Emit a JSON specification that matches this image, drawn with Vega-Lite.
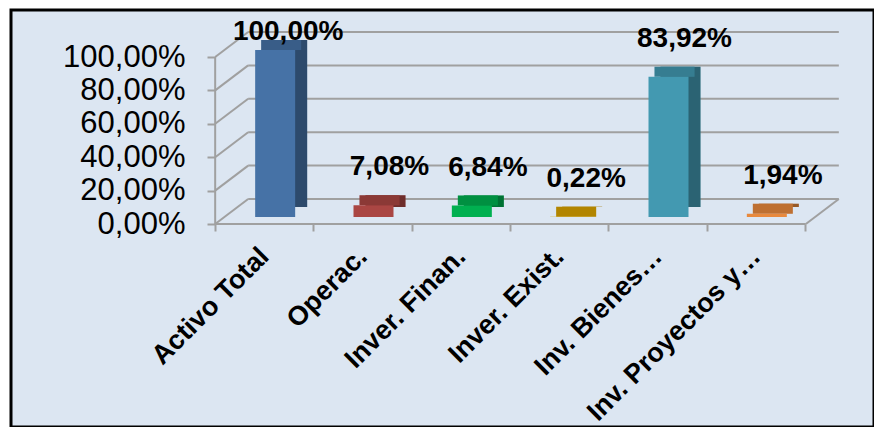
{
  "$schema": "https://vega.github.io/schema/vega-lite/v6.json",
  "width": 863,
  "height": 417,
  "autosize": {"type": "none"},
  "padding": {"left": 11, "top": 10, "right": 0, "bottom": 0},
  "background": "#ffffff",
  "config": {
    "view": {"fill": "#dce6f2", "stroke": "#000000", "strokeWidth": 3},
    "font": "Liberation Sans, Arial, sans-serif",
    "axis": {"grid": false}
  },
  "datasets": {
    "bars": [
      {"cat": "Activo Total", "pct": 1.0},
      {"cat": "Operac.", "pct": 0.0708},
      {"cat": "Inver. Finan.", "pct": 0.0684},
      {"cat": "Inver. Exist.", "pct": 0.0022},
      {"cat": "Inv. Bienes…", "pct": 0.8392},
      {"cat": "Inv. Proyectos y…", "pct": 0.0194}
    ],
    "ticks": [{"v": 0}, {"v": 0.2}, {"v": 0.4}, {"v": 0.6}, {"v": 0.8}, {"v": 1}]
  },
  "layer": [
    {
      "data": {"name": "ticks"},
      "mark": {"type": "rule", "color": "#a0a0a0", "strokeWidth": 2, "xOffset": -16, "x2Offset": 83, "yOffset": -25},
      "encoding": {
        "x": {
          "datum": "Activo Total", "type": "nominal",
          "scale": {"domain": ["Activo Total", "Operac.", "Inver. Finan.", "Inver. Exist.", "Inv. Bienes…", "Inv. Proyectos y…"], "range": [204, 794], "paddingInner": 0, "paddingOuter": 0},
          "axis": {
            "orient": "bottom", "offset": -203, "title": null, "domain": false,
            "tickColor": "#a0a0a0", "tickWidth": 2, "tickSize": 7, "tickBand": "extent",
            "labelAngle": -45, "labelAlign": "right", "labelBaseline": "middle",
            "labelFontSize": 27, "labelFontWeight": "bold", "labelColor": "#000000", "labelLimit": 0,
            "labelPadding": 21
          }
        },
        "x2": {"datum": "Inv. Proyectos y…"},
        "y": {
          "field": "v", "type": "quantitative", "title": null,
          "scale": {"domain": [-1.21557, 1.28144], "nice": false, "zero": false},
          "axis": {
            "orient": "left", "offset": -204, "values": [0, 0.2, 0.4, 0.6, 0.8, 1], "domain": false,
            "labelExpr": "replace(format(datum.value, '.2%'), '.', ',')",
            "tickColor": "#a0a0a0", "tickWidth": 2, "tickSize": 8,
            "labelFontSize": 31, "labelColor": "#000000", "labelPadding": 22, "title": null
          }
        }
      }
    },
    {
      "data": {"name": "ticks"},
      "mark": {"type": "rule", "color": "#a0a0a0", "strokeWidth": 2, "xOffset": -49, "x2Offset": -16, "y2Offset": -25},
      "encoding": {
        "x": {"datum": "Activo Total", "type": "nominal"},
        "x2": {"datum": "Activo Total"},
        "y": {"field": "v", "type": "quantitative", "title": null},
        "y2": {"field": "v"}
      }
    },
    {
      "data": {"name": "ticks"},
      "transform": [{"filter": "datum.v == 0"}],
      "mark": {"type": "rule", "color": "#a0a0a0", "strokeWidth": 2, "xOffset": 50, "x2Offset": 83, "y2Offset": -25},
      "encoding": {
        "x": {"datum": "Inv. Proyectos y…", "type": "nominal"},
        "x2": {"datum": "Inv. Proyectos y…"},
        "y": {"field": "v", "type": "quantitative", "title": null},
        "y2": {"field": "v"}
      }
    },
    {
      "data": {"name": "ticks"},
      "transform": [{"filter": "datum.v == 0"}],
      "mark": {"type": "rule", "color": "#a0a0a0", "strokeWidth": 2, "xOffset": -49, "x2Offset": 50},
      "encoding": {
        "x": {"datum": "Activo Total", "type": "nominal"},
        "x2": {"datum": "Inv. Proyectos y…"},
        "y": {"field": "v", "type": "quantitative", "title": null}
      }
    },
    {
      "data": {"name": "ticks"},
      "transform": [{"filter": "datum.v == 1"}],
      "mark": {"type": "rule", "color": "#a0a0a0", "strokeWidth": 2, "xOffset": -49},
      "encoding": {
        "x": {"datum": "Activo Total", "type": "nominal"},
        "y": {"datum": 0, "type": "quantitative", "title": null},
        "y2": {"datum": 1}
      }
    },
    {
      "data": {"name": "bars"},
      "mark": {"type": "bar", "width": 40, "xOffset": 23, "yOffset": -17, "y2Offset": -17},
      "encoding": {
        "x": {"field": "cat", "type": "nominal", "sort": null},
        "y": {"field": "pct", "type": "quantitative", "title": null},
        "y2": {"datum": 0},
        "color": {"field": "cat", "type": "nominal", "legend": null, "scale": {"domain": ["Activo Total", "Operac.", "Inver. Finan.", "Inver. Exist.", "Inv. Bienes…", "Inv. Proyectos y…"], "range": ["#4672a6", "#aa4643", "#00b050", "#d9a300", "#4399b1", "#e8893d"]}}
      }
    },
    {
      "data": {"name": "bars"},
      "mark": {"type": "bar", "width": 40, "xOffset": 23, "yOffset": -17, "y2Offset": -17, "color": "#000000", "opacity": 0.35},
      "encoding": {
        "x": {"field": "cat", "type": "nominal", "sort": null},
        "y": {"field": "pct", "type": "quantitative", "title": null},
        "y2": {"datum": 0}
      }
    },
    {
      "data": {"name": "bars"},
      "mark": {"type": "bar", "width": 40, "xOffset": 17, "yOffset": -17, "y2Offset": -7},
      "encoding": {
        "x": {"field": "cat", "type": "nominal", "sort": null},
        "y": {"field": "pct", "type": "quantitative", "title": null},
        "y2": {"field": "pct"},
        "color": {"field": "cat", "type": "nominal", "legend": null}
      }
    },
    {
      "data": {"name": "bars"},
      "mark": {"type": "bar", "width": 40, "xOffset": 17, "yOffset": -17, "y2Offset": -7, "color": "#000000", "opacity": 0.18},
      "encoding": {
        "x": {"field": "cat", "type": "nominal", "sort": null},
        "y": {"field": "pct", "type": "quantitative", "title": null},
        "y2": {"field": "pct"}
      }
    },
    {
      "data": {"name": "bars"},
      "mark": {"type": "bar", "width": 40, "xOffset": 11, "yOffset": -7, "y2Offset": -7},
      "encoding": {
        "x": {"field": "cat", "type": "nominal", "sort": null},
        "y": {"field": "pct", "type": "quantitative", "title": null},
        "y2": {"datum": 0},
        "color": {"field": "cat", "type": "nominal", "legend": null}
      }
    },
    {
      "data": {"name": "bars"},
      "transform": [{"filter": "datum.pct < 0.9"}, {"calculate": "replace(format(datum.pct, '.2%'), '.', ',')", "as": "lbl"}],
      "mark": {"type": "text", "fontSize": 28, "fontWeight": "bold", "color": "#000000", "dx": 27, "dy": -37, "baseline": "alphabetic", "align": "center"},
      "encoding": {
        "x": {"field": "cat", "type": "nominal", "sort": null},
        "y": {"field": "pct", "type": "quantitative", "title": null},
        "text": {"field": "lbl", "type": "nominal"}
      }
    },
    {
      "data": {"name": "bars"},
      "transform": [{"filter": "datum.pct >= 0.9"}, {"calculate": "replace(format(datum.pct, '.2%'), '.', ',')", "as": "lbl"}],
      "mark": {"type": "text", "fontSize": 28, "fontWeight": "bold", "color": "#000000", "dx": 24, "dy": -17, "baseline": "alphabetic", "align": "center"},
      "encoding": {
        "x": {"field": "cat", "type": "nominal", "sort": null},
        "y": {"field": "pct", "type": "quantitative", "title": null},
        "text": {"field": "lbl", "type": "nominal"}
      }
    }
  ]
}
